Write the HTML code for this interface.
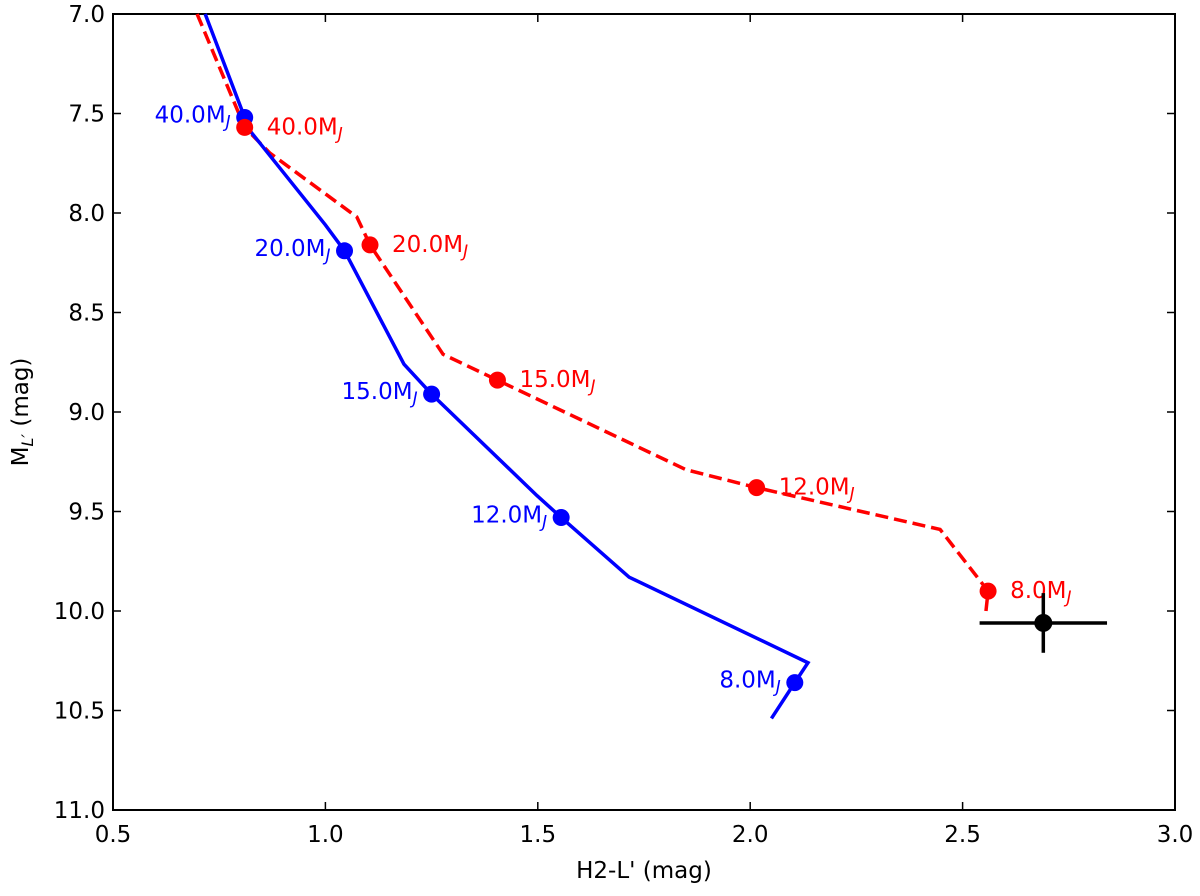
<!DOCTYPE html>
<html><head><meta charset="utf-8"><style>
body{margin:0;background:#fff}
svg text{font-family:"DejaVu Sans","Liberation Sans",sans-serif;font-size:23px}
</style></head><body>
<svg id="c" width="1200" height="891" xmlns="http://www.w3.org/2000/svg"></svg>
<script>
const xTicks=[0.5,1.0,1.5,2.0,2.5,3.0];
const yTicks=[7.0,7.5,8.0,8.5,9.0,9.5,10.0,10.5,11.0];
const blueX=[0.717,0.81,0.82,1.0,1.045,1.185,1.25,1.498,1.555,1.715,2.136,2.105,2.05];
const blueY=[7.0,7.52,7.58,8.06,8.19,8.76,8.91,9.42,9.53,9.83,10.26,10.36,10.54];
const redX=[0.698,0.81,0.87,1.074,1.105,1.277,1.405,1.849,2.015,2.447,2.56,2.555];
const redY=[7.0,7.57,7.7,8.02,8.16,8.71,8.84,9.29,9.38,9.59,9.9,10.0];
const blueMX=[0.81,1.045,1.25,1.555,2.105];
const blueMY=[7.52,8.19,8.91,9.53,10.36];
const redMX=[0.81,1.105,1.405,2.015,2.56];
const redMY=[7.57,8.16,8.84,9.38,9.9];
const massLabels=["40.0","20.0","15.0","12.0","8.0"];
const obsX=[2.69], obsY=[10.06], obsXerr=[0.15], obsYerr=[0.15];
const L=113,R=1175,T=14,B=810;
const sx=v=>L+(v-0.5)/2.5*(R-L);
const sy=v=>T+(v-7)/4*(B-T);
const svg=document.getElementById('c');
const NS='http://www.w3.org/2000/svg';
function mk(t,a,p){const e=document.createElementNS(NS,t);for(const k in a)e.setAttribute(k,a[k]);(p||svg).appendChild(e);return e;}
let e;
e=mk('rect',{x:L,y:T,width:R-L,height:B-T,fill:'none',stroke:'#000','stroke-width':2});


xTicks.forEach(v=>{
 e=mk('line',{x1:sx(v),x2:sx(v),y1:B,y2:B-8,stroke:'#000','stroke-width':1.5});
 
 
 e=mk('line',{x1:sx(v),x2:sx(v),y1:T,y2:T+8,stroke:'#000','stroke-width':1.5});
 
 
 e=mk('text',{x:sx(v),y:B+32,'text-anchor':'middle'});e.textContent=v.toFixed(1);
 
 
});
yTicks.forEach(v=>{
 e=mk('line',{x1:L,x2:L+8,y1:sy(v),y2:sy(v),stroke:'#000','stroke-width':1.5});
 
 
 e=mk('line',{x1:R,x2:R-8,y1:sy(v),y2:sy(v),stroke:'#000','stroke-width':1.5});
 
 
 e=mk('text',{x:L-8,y:sy(v)+8,'text-anchor':'end'});e.textContent=v.toFixed(1);
 
 
});
e=mk('text',{x:(L+R)/2,y:878,'text-anchor':'middle'});e.textContent="H2-L' (mag)";


e=mk('text',{x:0,y:0,'text-anchor':'middle',transform:`translate(28,${(T+B)/2}) rotate(-90)`});
e.innerHTML='M<tspan font-size="16" dy="5" font-style="italic">L′</tspan><tspan dy="-5"> (mag)</tspan>';


function pts(xs,ys){return xs.map((x,i)=>sx(x)+','+sy(ys[i])).join(' ');}
e=mk('polyline',{points:pts(redX,redY),fill:'none',stroke:'#ff0000','stroke-width':3.5,'stroke-dasharray':'13,6'});


e=mk('polyline',{points:pts(blueX,blueY),fill:'none',stroke:'#0000ff','stroke-width':3.5});


function lab(x,y,txt,col,anchor,name){
 const t=mk('text',{x:x,y:y,fill:col,'text-anchor':anchor});
 t.innerHTML=txt+'M<tspan font-size="17" dy="5" font-style="italic">J</tspan>';
 
 
}
blueMX.forEach((x,i)=>{
 e=mk('circle',{cx:sx(x),cy:sy(blueMY[i]),r:8.5,fill:'#0000ff'});
 
 
 lab(sx(x)-14,sy(blueMY[i])+5,massLabels[i],'#0000ff','end','blue-mass-label');
});
redMX.forEach((x,i)=>{
 e=mk('circle',{cx:sx(x),cy:sy(redMY[i]),r:8.5,fill:'#ff0000'});
 
 
 lab(sx(x)+22,sy(redMY[i])+7,massLabels[i],'#ff0000','start','red-mass-label');
});
obsX.forEach((x,i)=>{
 e=mk('line',{x1:sx(x-obsXerr[i]),x2:sx(x+obsXerr[i]),y1:sy(obsY[i]),y2:sy(obsY[i]),stroke:'#000','stroke-width':3.5});
 
 
 e=mk('line',{x1:sx(x),x2:sx(x),y1:sy(obsY[i]-obsYerr[i]),y2:sy(obsY[i]+obsYerr[i]),stroke:'#000','stroke-width':3.5});
 
 
 e=mk('circle',{cx:sx(x),cy:sy(obsY[i]),r:9,fill:'#000'});
 
 
});
</script>
</body></html>
